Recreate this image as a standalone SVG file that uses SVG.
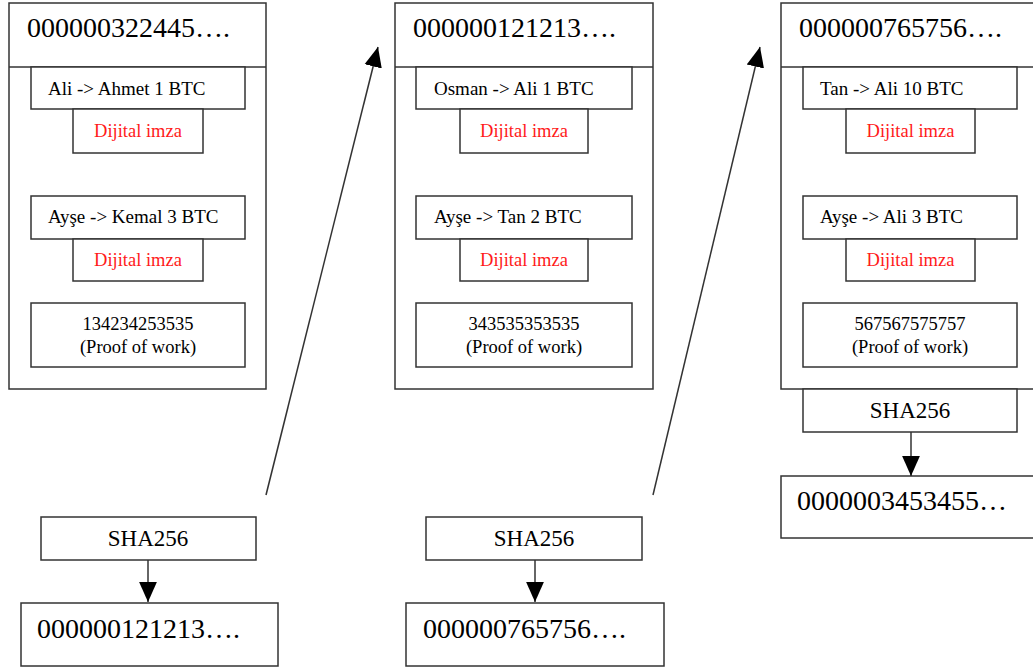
<svg xmlns="http://www.w3.org/2000/svg" width="1033" height="670" viewBox="0 0 1033 670">
<defs>
<style>
rect{fill:#fff;stroke:#333;stroke-width:1.5}
line,.ln{stroke:#333;stroke-width:1.5;fill:none}
text{font-family:"Liberation Serif","Times New Roman",serif;fill:#000}
.hd{font-size:28px}
.tx{font-size:19px}
.sig{font-size:18.5px;fill:#ff1a1a;text-anchor:middle}
.pow{font-size:18.5px;text-anchor:middle}
.sha{font-size:23px;text-anchor:middle}
</style>
<marker id="ah" markerUnits="userSpaceOnUse" markerWidth="20" markerHeight="20" viewBox="0 0 18 16" refX="18" refY="8" orient="auto">
<path d="M0,0 L18,8 L0,16 Z" fill="#000"/>
</marker>
</defs>
<rect x="-5" y="-5" width="1043" height="680" style="fill:#fff;stroke:none"/>

<g id="block1">
<rect x="9" y="3" width="257" height="386"/>
<line x1="9" y1="67" x2="266" y2="67"/>
<text class="hd" x="27" y="37">000000322445….</text>
<g id="b1-tx1"><rect x="31" y="67" width="214" height="42"/><text class="tx" x="48" y="95">Ali -&gt; Ahmet 1 BTC</text></g>
<g id="b1-sig1"><rect x="73" y="109" width="130" height="44"/><text class="sig" x="138" y="137">Dijital imza</text></g>
<g id="b1-tx2"><rect x="31" y="196" width="214" height="43"/><text class="tx" x="48" y="223">Ayşe -&gt; Kemal 3 BTC</text></g>
<g id="b1-sig2"><rect x="73" y="239" width="130" height="42"/><text class="sig" x="138" y="266">Dijital imza</text></g>
<g id="b1-pow"><rect x="31" y="303" width="214" height="64"/><text class="pow" x="138" y="330">134234253535</text><text class="pow" x="138" y="353">(Proof of work)</text></g>
</g>

<g id="block2">
<rect x="395" y="3" width="258" height="386"/>
<line x1="395" y1="67" x2="653" y2="67"/>
<text class="hd" x="413" y="37">000000121213….</text>
<g id="b2-tx1"><rect x="416" y="67" width="216" height="42"/><text class="tx" x="434" y="95">Osman -&gt; Ali 1 BTC</text></g>
<g id="b2-sig1"><rect x="460" y="109" width="128" height="44"/><text class="sig" x="524" y="137">Dijital imza</text></g>
<g id="b2-tx2"><rect x="416" y="196" width="216" height="43"/><text class="tx" x="434" y="223">Ayşe -&gt; Tan 2 BTC</text></g>
<g id="b2-sig2"><rect x="460" y="239" width="128" height="42"/><text class="sig" x="524" y="266">Dijital imza</text></g>
<g id="b2-pow"><rect x="416" y="303" width="216" height="64"/><text class="pow" x="524" y="330">343535353535</text><text class="pow" x="524" y="353">(Proof of work)</text></g>
</g>

<g id="block3">
<rect x="781" y="3" width="260" height="386"/>
<line x1="781" y1="67" x2="1041" y2="67"/>
<text class="hd" x="799" y="37">000000765756….</text>
<g id="b3-tx1"><rect x="803" y="67" width="214" height="42"/><text class="tx" x="820" y="95">Tan -&gt; Ali 10 BTC</text></g>
<g id="b3-sig1"><rect x="846" y="109" width="129" height="44"/><text class="sig" x="910.5" y="137">Dijital imza</text></g>
<g id="b3-tx2"><rect x="803" y="196" width="214" height="43"/><text class="tx" x="820" y="223">Ayşe -&gt; Ali 3 BTC</text></g>
<g id="b3-sig2"><rect x="846" y="239" width="129" height="42"/><text class="sig" x="910.5" y="266">Dijital imza</text></g>
<g id="b3-pow"><rect x="803" y="303" width="214" height="64"/><text class="pow" x="910" y="330">567567575757</text><text class="pow" x="910" y="353">(Proof of work)</text></g>
</g>

<g id="sha3"><rect x="803" y="389" width="214" height="43"/><text class="sha" x="910" y="418">SHA256</text></g>
<g id="hash3"><rect x="781" y="476" width="260" height="62"/><text class="hd" x="797" y="510">0000003453455…</text></g>

<g id="sha1"><rect x="41" y="517" width="215" height="43"/><text class="sha" x="148" y="546">SHA256</text></g>
<g id="hash1"><rect x="21" y="603" width="257" height="63"/><text class="hd" x="37" y="638">000000121213….</text></g>

<g id="sha2"><rect x="426" y="517" width="216" height="43"/><text class="sha" x="534" y="546">SHA256</text></g>
<g id="hash2"><rect x="406" y="603" width="258" height="63"/><text class="hd" x="423" y="638">000000765756….</text></g>

<g id="connectors">
<line x1="148" y1="560" x2="148" y2="602" marker-end="url(#ah)"/>
<line x1="535" y1="560" x2="535" y2="602" marker-end="url(#ah)"/>
<line x1="911" y1="432" x2="911" y2="476" marker-end="url(#ah)"/>
<line x1="266" y1="495" x2="378" y2="47" marker-end="url(#ah)"/>
<line x1="653" y1="495" x2="760" y2="47" marker-end="url(#ah)"/>
</g>
</svg>
